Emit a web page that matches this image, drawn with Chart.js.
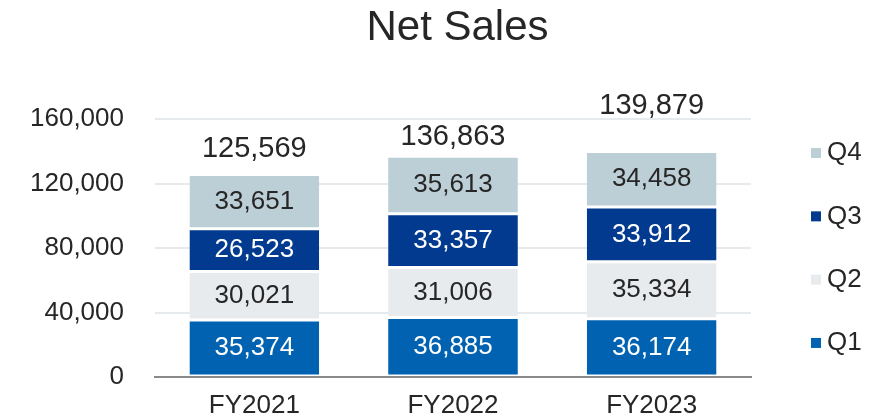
<!DOCTYPE html>
<html>
<head>
<meta charset="utf-8">
<script src="https://cdn.jsdelivr.net/npm/chart.js@4.4.1/dist/chart.umd.min.js"></script>
<style>
  html, body { margin: 0; padding: 0; background: #ffffff; }
  #wrap { width: 888px; height: 419px; }
</style>
</head>
<body>
<div id="wrap"><canvas id="c" width="888" height="419"></canvas></div>
<script>
// ---- data ----
const categories = ['FY2021', 'FY2022', 'FY2023'];
const seriesNames = ['Q1', 'Q2', 'Q3', 'Q4'];
const q1Values = [35374, 36885, 36174];
const q2Values = [30021, 31006, 35334];
const q3Values = [26523, 33357, 33912];
const q4Values = [33651, 35613, 34458];
const totalValues = [125569, 136863, 139879];
const yTickValues = [0, 40000, 80000, 120000, 160000];

// ---- styling ----
const FONT = "'Liberation Sans', Arial, Helvetica, sans-serif";
const TEXT = '#262626';
const seriesColors = ['#0062B0', '#E8EBEE', '#013A8E', '#BCCED6'];
const labelColors = ['#FFFFFF', TEXT, '#FFFFFF', TEXT];
const totalLabelOffsets = [26, 19, 45];   // px above bar top (layout only)

const fmt = v => Number(v).toLocaleString('en-US');
const seriesValues = [q1Values, q2Values, q3Values, q4Values];

const datasets = seriesNames.map((name, i) => ({
  label: name,
  data: seriesValues[i],
  backgroundColor: seriesColors[i],
  borderColor: '#FFFFFF',
  borderWidth: { top: 1.5, bottom: 1.5, left: 0, right: 0 },
  borderSkipped: false,
  categoryPercentage: 1.0,
  barPercentage: 0.653
}));

const labelPlugin = {
  id: 'valueLabels',
  afterDatasetsDraw(chart) {
    const ctx = chart.ctx;
    ctx.save();
    ctx.textAlign = 'center';
    ctx.textBaseline = 'middle';
    ctx.font = '26px ' + FONT;
    chart.data.datasets.forEach((ds, di) => {
      const meta = chart.getDatasetMeta(di);
      meta.data.forEach((bar, i) => {
        ctx.fillStyle = labelColors[di];
        ctx.fillText(fmt(ds.data[i]), bar.x, (bar.y + bar.base) / 2);
      });
    });
    // totals above stacks
    const topMeta = chart.getDatasetMeta(chart.data.datasets.length - 1);
    ctx.font = '29px ' + FONT;
    ctx.fillStyle = TEXT;
    topMeta.data.forEach((bar, i) => {
      ctx.fillText(fmt(totalValues[i]), bar.x, bar.y - totalLabelOffsets[i]);
    });
    ctx.restore();
  }
};

const legendPlugin = {
  id: 'sideLegend',
  afterDraw(chart) {
    const ctx = chart.ctx;
    const area = chart.chartArea;
    const n = chart.data.datasets.length;
    const spacing = 63.3;
    const cy = (area.top + area.bottom) / 2;
    ctx.save();
    ctx.font = '26px ' + FONT;
    ctx.textBaseline = 'middle';
    ctx.textAlign = 'left';
    for (let k = 0; k < n; k++) {
      const di = n - 1 - k; // reversed: Q4 on top
      const ds = chart.data.datasets[di];
      const y = cy + (k - (n - 1) / 2) * spacing;
      ctx.fillStyle = ds.backgroundColor;
      ctx.fillRect(811, y - 5, 10, 10);
      ctx.fillStyle = TEXT;
      ctx.fillText(ds.label, 827, y);
    }
    ctx.restore();
  }
};

const titleShift = {
  id: 'titleShift',
  afterLayout(chart) {
    const t = chart.titleBlock;
    if (t) { t.left = 27; t.right = 888; t.width = 861; }
  }
};

new Chart(document.getElementById('c'), {
  type: 'bar',
  data: { labels: categories, datasets },
  plugins: [labelPlugin, legendPlugin, titleShift],
  options: {
    responsive: false,
    animation: false,
    devicePixelRatio: 1,
    layout: { padding: { top: 0, left: 0, right: 137, bottom: 0 } },
    plugins: {
      legend: { display: false },
      tooltip: { enabled: false },
      title: {
        display: true,
        text: 'Net Sales',
        fullSize: false,
        color: TEXT,
        font: { family: FONT, size: 42, weight: 'normal', lineHeight: 1.2 },
        padding: { top: 2.8, bottom: 65.8 }
      }
    },
    scales: {
      x: {
        stacked: true,
        grid: { display: false, drawTicks: false },
        border: { display: true, color: '#898989', width: 2 },
        ticks: { color: TEXT, font: { family: FONT, size: 26 }, padding: 13 },
        afterFit(scale) { scale.height = 42; }
      },
      y: {
        stacked: true,
        min: 0,
        max: 160000,
        afterBuildTicks(scale) { scale.ticks = yTickValues.map(v => ({ value: v })); },
        grid: {
          drawTicks: false,
          lineWidth: 2,
          color: ctx => (ctx.tick && ctx.tick.value === 0) ? 'rgba(0,0,0,0)' : '#E6EAED'
        },
        border: { display: false },
        ticks: {
          color: TEXT,
          font: { family: FONT, size: 26 },
          padding: 31,
          callback: v => fmt(v)
        },
        afterFit(scale) {
          scale.width = 155;
          scale.paddingTop = 16;
          scale.paddingBottom = 16;
        }
      }
    }
  }
});
</script>
</body>
</html>
